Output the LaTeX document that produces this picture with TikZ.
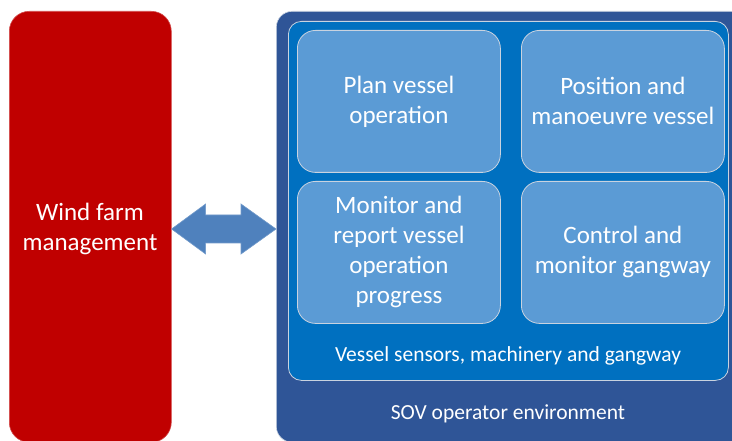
\documentclass[tikz,border=0pt]{standalone}
\usepackage{fontspec}
\setmainfont{Carlito}
\usetikzlibrary{calc}
\definecolor{redbox}{HTML}{C00000}
\definecolor{outerblue}{HTML}{2F5597}
\definecolor{innerblue}{HTML}{0070C0}
\definecolor{taskblue}{HTML}{5B9BD5}
\definecolor{arrowblue}{HTML}{4F81BD}
\definecolor{edgegray}{HTML}{C9D3E0}
\tikzset{
  px/.style={x=1pt,y=-1pt},
  bigbox/.style={rounded corners=18pt, inner sep=0pt, anchor=north west},
  taskbox/.style={fill=taskblue, draw=edgegray, line width=0.8pt, rounded corners=18pt,
     minimum width=203pt, minimum height=142pt, anchor=north west, inner sep=0pt,
     text=white, align=center, font=\fontsize{25}{30}\selectfont},
  lbl/.style={text=white, font=\fontsize{21.5}{24}\selectfont},
  arrowfill/.style={fill=arrowblue, draw=arrowblue!80!white, line width=0.6pt}
}
\begin{document}
\begin{tikzpicture}[px]
\useasboundingbox (0,0) rectangle (732,441);
\clip (0,0) rectangle (732,441);
% red box
\node[bigbox, fill=redbox, draw=redbox!70!white, line width=0.6pt, minimum width=162pt, minimum height=431pt,
  rounded corners=20pt] (red) at (9,11) {};
\node[text=white, align=center, font=\fontsize{25}{30}\selectfont] (redlbl) at (90,229) {Wind farm\\management};
% outer blue
\node[bigbox, fill=outerblue, draw=edgegray, line width=0.6pt, minimum width=470pt, minimum height=431pt,
  rounded corners=16pt] (outer) at (276,11) {};
\node[bigbox, fill=innerblue, draw=edgegray, line width=0.8pt, minimum width=440pt, minimum height=359pt,
  rounded corners=13pt] (inner) at (288,21) {};
% task boxes
\node[taskbox] (plan) at (297,30) {Plan vessel\\operation};
\node[taskbox] (pos) at (521,30) {Position and\\manoeuvre vessel};
\node[taskbox] (mon) at (297,181) {Monitor and\\report vessel\\operation\\progress};
\node[taskbox] (ctl) at (521,181) {Control and\\monitor gangway};
% labels
\node[lbl] (sens) at (508,356) {Vessel sensors, machinery and gangway};
\node[lbl] (sov) at (508,414) {SOV operator environment};
% double arrow
\coordinate (al) at (red.east |- 0,229);
\coordinate (ar) at (outer.west |- 0,229);
\draw[arrowfill] (al) -- ++(34,-25) -- ++(0,11) -- ($(ar)+(-35,-14)$) -- ++(0,-11) -- (ar)
  -- ++(-35,25) -- ++(0,-11) -- ($(al)+(34,14)$) -- ++(0,11) -- cycle;
\end{tikzpicture}
\end{document}
